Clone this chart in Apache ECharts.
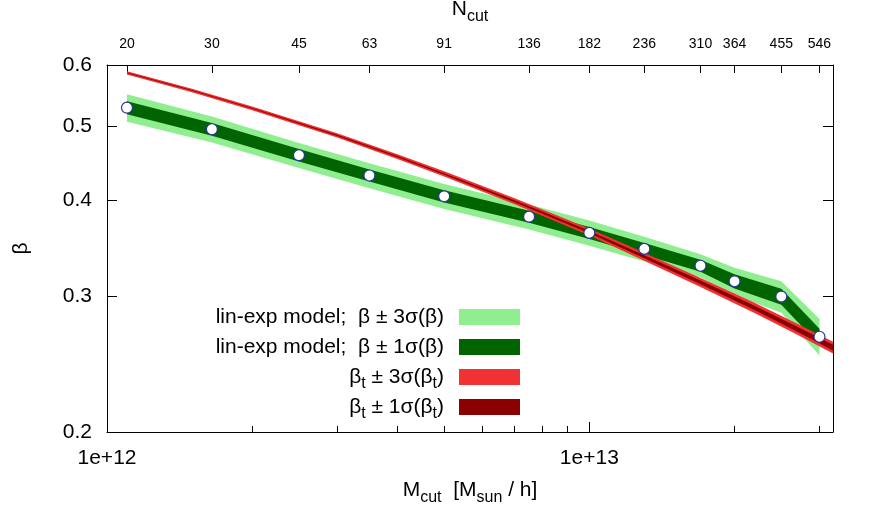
<!DOCTYPE html>
<html>
<head>
<meta charset="utf-8">
<script src="https://cdn.jsdelivr.net/npm/echarts@6/dist/echarts.min.js"></script>
<style>
  html, body { margin: 0; padding: 0; background: #fff; }
  #chart { width: 872px; height: 523px; }
</style>
</head>
<body>
<div id="chart"></div>
<script>
// mass cuts and the matching halo counts (top axis)
const mCut = [1.1e12, 1.65e12, 2.5e12, 3.5e12, 5e12, 7.5e12, 1e13, 1.3e13, 1.7e13, 2e13, 2.5e13, 3e13];
const nCut = [20, 30, 45, 63, 91, 136, 182, 236, 310, 364, 455, 546];

// lin-exp model fit
const beta     = [0.528, 0.495, 0.458, 0.431, 0.405, 0.381, 0.363, 0.346, 0.329, 0.314, 0.300, 0.266];
const betaSig1 = [0.0103, 0.0094, 0.0085, 0.0078, 0.0073, 0.0069, 0.0065, 0.0062, 0.0059, 0.0066, 0.0072, 0.0064];
const betaSig3 = [0.0217, 0.0193, 0.0172, 0.0162, 0.0152, 0.0143, 0.0136, 0.0128, 0.0115, 0.0129, 0.0141, 0.0146];

// beta_t curve
const mT        = [1.1e12, 1.5e12, 2e12, 3e12, 4e12, 5e12, 7e12, 1e13, 1.3e13, 1.7e13, 2.2e13, 2.7e13, 3.2e13];
const betaT     = [0.586, 0.556, 0.527, 0.486, 0.456, 0.433, 0.399, 0.364, 0.338, 0.313, 0.290, 0.272, 0.2575];
const betaTSig1 = [0.0007, 0.0007, 0.0007, 0.0008, 0.0009, 0.0010, 0.0011, 0.0013, 0.0015, 0.0017, 0.0019, 0.0021, 0.0022];
const betaTSig3 = [0.0027, 0.0028, 0.0029, 0.0031, 0.0032, 0.0034, 0.0036, 0.0038, 0.0041, 0.0042, 0.0044, 0.0045, 0.0046];

// axis ticks
const xMajor = [1e12, 1e13];
const xMinor = [2e12, 3e12, 4e12, 5e12, 6e12, 7e12, 8e12, 9e12, 2e13, 3e13];
const yTicks = [0.2, 0.3, 0.4, 0.5, 0.6];

const FONT = '"Liberation Sans", Arial, Helvetica, sans-serif';
const sub = { fontSize: 16, lineHeight: 16, verticalAlign: 'bottom', fontFamily: FONT, color: '#000' };

const legendText = {
  green3: 'lin-exp model;  β ± 3σ(β)',
  green1: 'lin-exp model;  β ± 1σ(β)',
  red3: 'β{sub|t} ± 3σ(β{sub|t})',
  red1: 'β{sub|t} ± 1σ(β{sub|t})'
};

// band between mid-sig and mid+sig, drawn as one polygon
function band(name, xs, mid, sig, color, z) {
  return {
    name: name,
    type: 'custom',
    z: z,
    clip: true,
    itemStyle: { color: color },
    data: [[xs[0], mid[0]]],
    renderItem: (params, api) => {
      const upper = xs.map((x, i) => api.coord([x, mid[i] + sig[i]]));
      const lower = xs.map((x, i) => api.coord([x, mid[i] - sig[i]])).reverse();
      return {
        type: 'polygon',
        shape: { points: upper.concat(lower) },
        style: { fill: color }
      };
    }
  };
}

function nearestN(v) {
  let best = 0;
  mCut.forEach((m, i) => {
    if (Math.abs(Math.log10(m / v)) < Math.abs(Math.log10(mCut[best] / v))) best = i;
  });
  return String(nCut[best]);
}

const chart = echarts.init(document.getElementById('chart'), null, { renderer: 'canvas' });

const baseX = { type: 'log', logBase: 10, min: 1e12, max: 3.2e13, splitLine: { show: false } };
const baseY = { type: 'log', logBase: 10, min: 0.2, max: 0.6, splitLine: { show: false } };
const line = { show: true, lineStyle: { color: '#000', width: 1 } };

chart.setOption({
  animation: false,
  backgroundColor: '#fff',
  grid: { left: 107, right: 39, top: 65, bottom: 91, outerBoundsMode: 'none' },
  legend: {
    data: ['green3', 'green1', 'red3', 'red1'],
    orient: 'vertical',
    align: 'right',
    right: 352,
    top: 302,
    padding: 0,
    itemGap: 0,
    itemWidth: 61,
    itemHeight: 16,
    icon: 'rect',
    selectedMode: false,
    formatter: name => legendText[name],
    textStyle: {
      fontFamily: FONT, fontSize: 21, lineHeight: 30, color: '#000',
      padding: [0, 10, 0, 0],
      rich: { sub: sub }
    }
  },
  xAxis: [
    Object.assign({}, baseX, {
      position: 'bottom',
      axisLine: line,
      axisTick: { inside: true, length: 10, customValues: xMajor, lineStyle: { color: '#000' } },
      axisLabel: {
        customValues: xMajor, margin: 16, fontSize: 21, lineHeight: 21, fontFamily: FONT, color: '#000',
        formatter: v => '1e+' + Math.round(Math.log10(v))
      },
      name: 'M{sub|cut}  [M{sub|sun} / h]',
      nameLocation: 'middle',
      nameGap: 31,
      nameTextStyle: { fontFamily: FONT, fontSize: 21, lineHeight: 32, color: '#000', rich: { sub: sub } }
    }),
    Object.assign({}, baseX, {
      position: 'bottom',
      axisLine: { show: false },
      axisTick: { inside: true, length: 6, customValues: xMinor, lineStyle: { color: '#000' } },
      axisLabel: { show: false }
    }),
    Object.assign({}, baseX, {
      position: 'top',
      axisLine: line,
      axisTick: { inside: true, length: 8, customValues: mCut, lineStyle: { color: '#000' } },
      axisLabel: {
        customValues: mCut, margin: 14, fontSize: 14, lineHeight: 14, fontFamily: FONT, color: '#000',
        formatter: nearestN
      },
      name: 'N{sub|cut}',
      nameLocation: 'middle',
      nameGap: 40,
      nameTextStyle: { fontFamily: FONT, fontSize: 21, lineHeight: 32, color: '#000', rich: { sub: sub } }
    })
  ],
  yAxis: [
    Object.assign({}, baseY, {
      position: 'left',
      axisLine: line,
      axisTick: { inside: true, length: 10, customValues: yTicks, lineStyle: { color: '#000' } },
      axisLabel: {
        customValues: yTicks, margin: 15, fontSize: 21, fontFamily: FONT, color: '#000',
        formatter: v => v.toFixed(1)
      },
      name: 'β',
      nameLocation: 'middle',
      nameGap: 75,
      nameTextStyle: { fontFamily: FONT, fontSize: 21, color: '#000' }
    }),
    Object.assign({}, baseY, {
      position: 'right',
      axisLine: line,
      axisTick: { inside: true, length: 10, customValues: yTicks, lineStyle: { color: '#000' } },
      axisLabel: { show: false }
    })
  ],
  series: [
    band('green3', mCut, beta, betaSig3, '#90ee90', 1),
    band('green1', mCut, beta, betaSig1, '#006400', 2),
    band('red3', mT, betaT, betaTSig3, '#f03232', 3),
    band('red1', mT, betaT, betaTSig1, '#8b0000', 4),
    {
      name: 'points',
      type: 'scatter',
      z: 5,
      symbol: 'circle',
      symbolSize: 11,
      itemStyle: { color: '#fff', opacity: 1, borderColor: '#24339e', borderWidth: 1.2 },
      data: mCut.map((m, i) => [m, beta[i]])
    }
  ]
});
</script>
</body>
</html>
